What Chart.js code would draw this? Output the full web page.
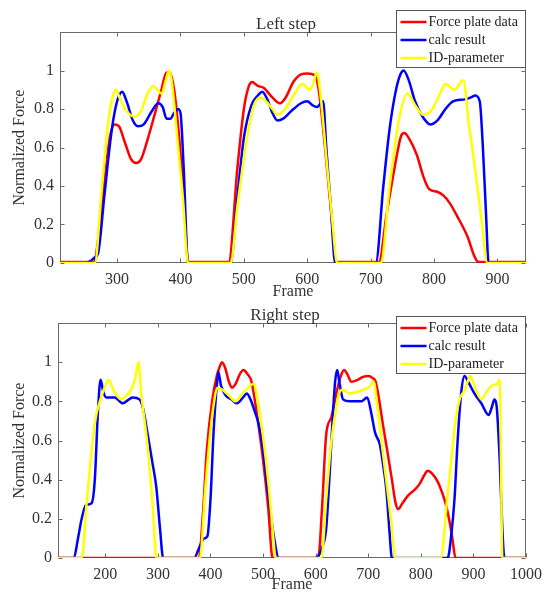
<!DOCTYPE html>
<html>
<head>
<meta charset="utf-8">
<script src="https://cdn.jsdelivr.net/npm/chart.js@4.4.1/dist/chart.umd.min.js"></script>
<style>
  body { margin: 0; background: #fff; }
  canvas { display: block; }
</style>
</head>
<body>
<canvas id="left-step" width="549" height="300"></canvas>
<canvas id="right-step" width="549" height="295"></canvas>
<script>
// [frame, normalized force]
const seriesLabels = ['Force plate data', 'calc result', 'ID-parameter'];
const yTickValues = [0, 0.2, 0.4, 0.6, 0.8, 1];
const leftXTicks = [300, 400, 500, 600, 700, 800, 900];
const rightXTicks = [200, 300, 400, 500, 600, 700, 800, 900, 1000];

const leftForce = [
  [210, 0.005], [264, 0.005], [270, 0.12], [280, 0.42], [289, 0.66], [296, 0.72], [303, 0.71],
  [312, 0.63], [322, 0.54], [330, 0.52], [338, 0.54], [348, 0.64], [360, 0.78], [370, 0.9],
  [378, 0.99], [383, 0.99], [390, 0.9], [398, 0.65], [406, 0.3], [412, 0.005], [476, 0.005],
  [490, 0.5], [500, 0.8], [508, 0.92], [513, 0.94], [522, 0.92], [531, 0.91], [545, 0.86],
  [557, 0.83], [566, 0.86], [578, 0.94], [590, 0.98], [600, 0.985], [612, 0.975], [618, 0.9],
  [628, 0.6], [638, 0.25], [646, 0.005], [713, 0.005], [725, 0.25], [738, 0.5], [748, 0.66],
  [753, 0.675], [760, 0.65], [773, 0.56], [783, 0.45], [792, 0.385], [805, 0.37], [815, 0.35],
  [825, 0.31], [837, 0.24], [853, 0.135], [863, 0.04], [870, 0.005], [945, 0.005]
];
const leftCalc = [
  [210, 0], [250, 0], [258, 0.01], [265, 0.03], [270, 0.05], [280, 0.35], [290, 0.65],
  [296, 0.78], [302, 0.86], [308, 0.89], [315, 0.84], [325, 0.74], [333, 0.71], [342, 0.72],
  [355, 0.79], [365, 0.83], [372, 0.81], [378, 0.75], [384, 0.75], [390, 0.78], [396, 0.8],
  [400, 0.78], [405, 0.5], [412, 0], [479, 0], [490, 0.35], [500, 0.65], [512, 0.82],
  [522, 0.87], [529, 0.89], [537, 0.85], [545, 0.78], [553, 0.74], [562, 0.75], [575, 0.79],
  [590, 0.83], [600, 0.84], [608, 0.82], [615, 0.81], [625, 0.84], [630, 0.6], [637, 0.3],
  [644, 0], [708, 0], [720, 0.4], [730, 0.7], [740, 0.9], [747, 0.98], [752, 1.0], [760, 0.95],
  [770, 0.84], [782, 0.76], [794, 0.72], [805, 0.74], [818, 0.8], [830, 0.84], [849, 0.85],
  [858, 0.86], [865, 0.87], [872, 0.84], [877, 0.6], [882, 0.25], [886, 0], [945, 0]
];
const leftID = [
  [210, 0], [265, 0], [275, 0.35], [285, 0.7], [292, 0.85], [298, 0.9], [305, 0.85],
  [315, 0.79], [328, 0.76], [338, 0.79], [348, 0.88], [357, 0.92], [364, 0.9], [370, 0.88],
  [377, 0.95], [382, 1.0], [386, 0.95], [395, 0.65], [404, 0.33], [412, 0], [479, 0],
  [490, 0.3], [505, 0.65], [516, 0.82], [526, 0.86], [535, 0.84], [545, 0.8], [553, 0.77],
  [565, 0.8], [580, 0.88], [592, 0.93], [604, 0.9], [610, 0.94], [615, 0.99], [620, 0.9],
  [630, 0.55], [640, 0.2], [647, 0], [716, 0], [730, 0.4], [745, 0.75], [758, 0.88],
  [770, 0.82], [783, 0.77], [795, 0.79], [808, 0.87], [818, 0.93], [832, 0.9], [846, 0.95],
  [855, 0.72], [865, 0.48], [875, 0.22], [884, 0], [945, 0]
];

const rightForce = [
  [110, 0], [378, 0], [385, 0.2], [393, 0.55], [403, 0.8], [412, 0.93], [418, 0.98],
  [422, 1.0], [428, 0.97], [435, 0.9], [441, 0.87], [448, 0.89], [456, 0.94], [463, 0.96],
  [470, 0.94], [478, 0.9], [490, 0.7], [500, 0.5], [510, 0.25], [518, 0], [605, 0],
  [612, 0.25], [620, 0.63], [630, 0.72], [640, 0.85], [648, 0.93], [654, 0.96], [660, 0.94],
  [668, 0.9], [680, 0.91], [690, 0.925], [700, 0.93], [708, 0.92], [714, 0.9], [720, 0.82],
  [728, 0.68], [736, 0.55], [745, 0.4], [752, 0.28], [757, 0.25], [765, 0.28], [776, 0.32],
  [789, 0.35], [798, 0.38], [806, 0.42], [813, 0.445], [822, 0.43], [832, 0.39], [841, 0.33],
  [848, 0.27], [855, 0.18], [860, 0.1], [866, 0], [1000, 0]
];
const rightCalc = [
  [110, 0], [140, 0], [148, 0.1], [155, 0.2], [163, 0.27], [174, 0.28], [180, 0.4],
  [186, 0.75], [191, 0.91], [196, 0.85], [202, 0.82], [218, 0.82], [233, 0.79], [245, 0.81],
  [252, 0.82], [265, 0.81], [272, 0.76], [280, 0.64], [290, 0.48], [297, 0.36], [304, 0.15],
  [310, 0], [369, 0], [378, 0.05], [388, 0.1], [394, 0.11], [400, 0.3], [406, 0.65],
  [412, 0.88], [415, 0.95], [420, 0.88], [429, 0.83], [440, 0.81], [450, 0.79], [462, 0.82],
  [469, 0.84], [476, 0.81], [484, 0.75], [492, 0.68], [500, 0.55], [511, 0.3], [520, 0.12],
  [530, 0], [598, 0], [605, 0.01], [612, 0.05], [620, 0.15], [626, 0.4], [632, 0.7],
  [637, 0.9], [641, 0.96], [645, 0.9], [652, 0.81], [665, 0.8], [687, 0.8], [698, 0.82],
  [705, 0.75], [713, 0.64], [722, 0.58], [728, 0.48], [734, 0.36], [740, 0.15], [745, 0],
  [851, 0], [858, 0.12], [864, 0.3], [870, 0.6], [877, 0.85], [883, 0.93], [890, 0.9],
  [902, 0.84], [915, 0.79], [929, 0.73], [935, 0.77], [940, 0.81], [944, 0.78], [950, 0.5],
  [955, 0.15], [959, 0], [1000, 0]
];
const rightID = [
  [110, 0], [155, 0], [165, 0.3], [180, 0.69], [192, 0.82], [200, 0.88], [207, 0.91],
  [215, 0.86], [230, 0.81], [240, 0.83], [249, 0.86], [257, 0.92], [263, 1.0], [268, 0.85],
  [280, 0.58], [290, 0.27], [297, 0], [380, 0], [390, 0.35], [400, 0.65], [407, 0.8],
  [413, 0.87], [422, 0.86], [435, 0.83], [448, 0.8], [460, 0.84], [472, 0.87], [482, 0.89],
  [490, 0.8], [500, 0.62], [511, 0.36], [518, 0.15], [524, 0], [611, 0], [620, 0.3],
  [630, 0.6], [640, 0.78], [646, 0.85], [652, 0.86], [664, 0.84], [680, 0.85], [700, 0.87],
  [711, 0.9], [716, 0.8], [725, 0.6], [735, 0.38], [744, 0.18], [751, 0], [838, 0],
  [850, 0.3], [858, 0.5], [866, 0.7], [875, 0.82], [882, 0.85], [889, 0.9], [894, 0.93],
  [903, 0.87], [915, 0.81], [925, 0.85], [935, 0.88], [945, 0.89], [950, 0.91], [952, 0.6],
  [955, 0], [1000, 0]
];

const colors = ['#ff0000', '#0000ff', '#ffff00'];
const serif = '"Liberation Serif", "Times New Roman", serif';

// matlab-ish box, inward ticks, title and a boxed legend inside the axes
const stepDecor = {
  id: 'stepDecor',
  beforeDatasetsDraw(chart, args, opts) {
    const { ctx, chartArea: a, scales: { x, y } } = chart;
    const l = Math.round(a.left) + 0.5, r = Math.round(a.right) - 0.5;
    const t = Math.round(a.top) + 0.5, b = Math.round(a.bottom) - 0.5;
    ctx.save();
    ctx.strokeStyle = '#6a6a6a';
    ctx.lineWidth = 1;
    ctx.strokeRect(l, t, r - l, b - t);
    ctx.beginPath();
    x.ticks.forEach(tk => {
      const px = Math.round(x.getPixelForValue(tk.value)) + 0.5;
      ctx.moveTo(px, b); ctx.lineTo(px, b - 4);
      ctx.moveTo(px, t); ctx.lineTo(px, t + 4);
    });
    y.ticks.forEach(tk => {
      const py = Math.round(y.getPixelForValue(tk.value)) + 0.5;
      ctx.moveTo(l, py); ctx.lineTo(l + 4, py);
      ctx.moveTo(r, py); ctx.lineTo(r - 4, py);
    });
    ctx.stroke();
    ctx.fillStyle = '#333';
    ctx.font = '17px ' + serif;
    ctx.textAlign = 'center';
    ctx.textBaseline = 'alphabetic';
    ctx.fillText(opts.title, (a.left + a.right) / 2 - 7, a.top - 3);
    ctx.restore();
  },
  afterDraw(chart, args, opts) {
    const { ctx, chartArea: a } = chart;
    const w = 129, h = 57;
    const lx = Math.round(a.right) - 130 + 0.5, ly = opts.legendTop + 0.5;
    ctx.save();
    ctx.fillStyle = '#fff';
    ctx.fillRect(lx, ly, w, h);
    ctx.strokeStyle = '#555';
    ctx.lineWidth = 1;
    ctx.strokeRect(lx, ly, w, h);
    ctx.font = '14px ' + serif;
    ctx.textAlign = 'left';
    ctx.textBaseline = 'middle';
    chart.data.datasets.forEach((ds, i) => {
      const cy = ly + 11.5 + i * 18;
      ctx.strokeStyle = ds.borderColor;
      ctx.lineWidth = 2.5;
      ctx.beginPath();
      ctx.moveTo(lx + 4, cy);
      ctx.lineTo(lx + 30, cy);
      ctx.stroke();
      ctx.fillStyle = '#222';
      ctx.fillText(ds.label, lx + 32, cy);
    });
    ctx.restore();
  }
};

function stepConfig(title, series, xMin, xMax, xTicks, box) {
  return {
    type: 'line',
    data: {
      datasets: series.map((pts, i) => ({
        label: seriesLabels[i],
        data: pts.map(([f, v]) => ({ x: f, y: v })),
        borderColor: colors[i],
        backgroundColor: colors[i],
        borderWidth: 2.5,
        pointRadius: 0,
        cubicInterpolationMode: 'monotone',
        order: 3 - i
      }))
    },
    options: {
      responsive: false,
      animation: false,
      layout: { padding: { top: box.top, right: box.right, bottom: 0, left: 0 } },
      plugins: {
        legend: { display: false },
        tooltip: { enabled: false },
        stepDecor: { title: title, legendTop: box.legendTop }
      },
      scales: {
        x: {
          type: 'linear',
          min: xMin,
          max: xMax,
          grid: { display: false, drawTicks: false },
          border: { display: false },
          afterBuildTicks: s => { s.ticks = xTicks.map(v => ({ value: v })); },
          ticks: {
            maxRotation: 0,
            autoSkip: false,
            padding: 7,
            color: '#333',
            font: { family: serif, size: 16 },
            callback: v => `${v}`
          },
          title: {
            display: true,
            text: 'Frame',
            color: '#333',
            font: { family: serif, size: 16, lineHeight: 1 },
            padding: { top: 0, bottom: box.frameBottom }
          },
          afterFit: s => { s.height = 37; }
        },
        y: {
          min: 0,
          max: 1.2,
          grid: { display: false, drawTicks: false },
          border: { display: false },
          afterBuildTicks: s => { s.ticks = yTickValues.map(v => ({ value: v })); },
          ticks: {
            padding: 6,
            color: '#333',
            font: { family: serif, size: 16 },
            callback: v => `${v}`
          },
          title: {
            display: true,
            text: 'Normalized Force',
            color: '#333',
            font: { family: serif, size: 16, lineHeight: 1 },
            padding: { top: 12, bottom: 0 }
          },
          afterFit: s => { s.width = box.left; }
        }
      }
    },
    plugins: [stepDecor]
  };
}

let leftChart = new Chart(document.getElementById('left-step'),
  stepConfig('Left step', [leftForce, leftCalc, leftID], 210, 945, leftXTicks,
    { top: 32, right: 23, left: 60, legendTop: 10, frameBottom: 0 }));

let rightChart = new Chart(document.getElementById('right-step'),
  stepConfig('Right step', [rightForce, rightCalc, rightID], 110, 1000, rightXTicks,
    { top: 23, right: 21, left: 58, legendTop: 16, frameBottom: 2 }));
</script>
</body>
</html>
